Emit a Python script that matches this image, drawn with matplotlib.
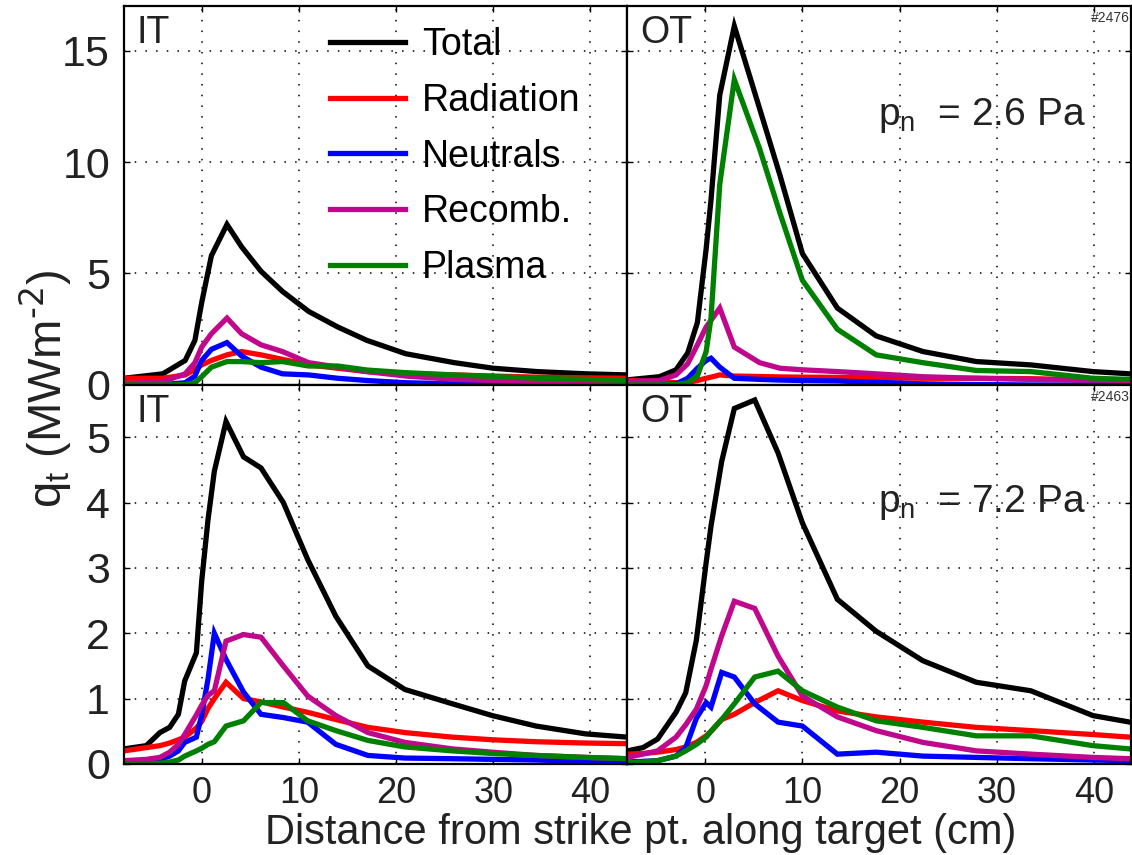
import matplotlib
matplotlib.use("Agg")
import matplotlib.pyplot as plt

plt.rcParams['font.family'] = ['Liberation Sans', 'DejaVu Sans']
plt.rcParams['mathtext.default'] = 'regular'

series_names = ["Total", "Radiation", "Neutrals", "Recomb.", "Plasma"]
series_colors = ["#000000", "#ff0000", "#0000ff", "#c0088c", "#008000"]

# --- inner target, p_n = 2.6 Pa (#2476) ---
x_it_low = [-8, -4, -1.7, -0.7, 0, 1, 2.6, 4.1, 6.1, 8.3, 11, 14, 17, 21, 26, 30, 34.5, 39.5, 43.8]
tot_it_low = [0.3, 0.5, 1.1, 2.0, 3.7, 5.8, 7.2, 6.2, 5.1, 4.2, 3.3, 2.6, 2.0, 1.4, 1.0, 0.75, 0.6, 0.5, 0.45]
rad_it_low = [0.3, 0.3, 0.45, 0.7, 0.9, 1.1, 1.35, 1.5, 1.35, 1.15, 0.9, 0.75, 0.6, 0.5, 0.45, 0.4, 0.35, 0.32, 0.3]
neu_it_low = [0.0, 0.02, 0.1, 0.4, 1.1, 1.6, 1.9, 1.3, 0.8, 0.5, 0.45, 0.3, 0.2, 0.1, 0.05, 0.03, 0.02, 0.01, 0.0]
rec_it_low = [0.05, 0.15, 0.5, 1.0, 1.7, 2.3, 3.0, 2.3, 1.8, 1.5, 1.0, 0.8, 0.6, 0.4, 0.25, 0.2, 0.15, 0.12, 0.1]
pla_it_low = [0.0, 0.0, 0.02, 0.1, 0.37, 0.8, 1.05, 1.05, 1.0, 1.05, 0.85, 0.85, 0.67, 0.55, 0.45, 0.38, 0.3, 0.25, 0.2]

# --- outer target, p_n = 2.6 Pa ---
x_ot_low = [-8, -4.7, -3, -1.8, -0.8, 0.1, 0.6, 1.5, 3.0, 5.6, 7.7, 10, 13.6, 17.6, 22.4, 27.9, 33.5, 39.9, 43.7]
tot_ot_low = [0.23, 0.37, 0.68, 1.43, 2.8, 6.1, 8.3, 13.0, 16.1, 12.4, 9.4, 5.9, 3.45, 2.2, 1.5, 1.05, 0.9, 0.6, 0.5]
rad_ot_low = [0.2, 0.15, 0.1, 0.12, 0.2, 0.3, 0.35, 0.45, 0.4, 0.38, 0.36, 0.35, 0.34, 0.32, 0.3, 0.3, 0.28, 0.22, 0.2]
neu_ot_low = [0.0, 0.0, 0.05, 0.3, 0.75, 1.1, 1.2, 0.8, 0.3, 0.25, 0.22, 0.2, 0.18, 0.12, 0.05, 0.02, 0.0, 0.0, 0.0]
rec_ot_low = [0.15, 0.2, 0.45, 0.95, 1.8, 2.6, 2.9, 3.45, 1.7, 1.0, 0.75, 0.68, 0.6, 0.5, 0.37, 0.3, 0.25, 0.22, 0.2]
pla_ot_low = [0.0, 0.0, 0.02, 0.1, 0.4, 1.5, 3.0, 9.0, 13.7, 10.6, 7.7, 4.7, 2.5, 1.35, 1.0, 0.65, 0.6, 0.3, 0.25]

# --- inner target, p_n = 7.2 Pa (#2463) ---
x_it_high = [-8, -5.7, -4.3, -3.3, -2.4, -1.75, -0.55, 0, 0.65, 1.3, 2.5, 4.3, 6.1, 8.4, 10.9, 13.8, 17.1, 20.9, 25.8, 29.9, 34.4, 39.5, 43.8]
tot_it_high = [0.23, 0.28, 0.48, 0.56, 0.76, 1.27, 1.7, 2.8, 3.74, 4.48, 5.24, 4.7, 4.53, 4.0, 3.13, 2.26, 1.5, 1.14, 0.92, 0.74, 0.58, 0.46, 0.41]
rad_it_high = [0.2, 0.25, 0.28, 0.32, 0.37, 0.41, 0.55, 0.65, 0.85, 1.0, 1.25, 1.0, 0.95, 0.87, 0.79, 0.68, 0.56, 0.48, 0.41, 0.37, 0.34, 0.32, 0.31]
neu_it_high = [0.0, 0.03, 0.07, 0.12, 0.2, 0.33, 0.41, 0.75, 1.3, 2.0, 1.6, 1.1, 0.76, 0.71, 0.64, 0.3, 0.13, 0.09, 0.08, 0.07, 0.06, 0.04, 0.03]
rec_it_high = [0.05, 0.07, 0.1, 0.18, 0.3, 0.45, 0.75, 0.9, 1.05, 1.12, 1.88, 1.98, 1.94, 1.5, 1.04, 0.74, 0.48, 0.33, 0.23, 0.18, 0.13, 0.1, 0.08]
pla_it_high = [0.0, 0.0, 0.01, 0.03, 0.06, 0.12, 0.2, 0.24, 0.3, 0.34, 0.58, 0.66, 0.94, 0.94, 0.66, 0.51, 0.36, 0.26, 0.2, 0.16, 0.13, 0.1, 0.08]

# --- outer target, p_n = 7.2 Pa ---
x_ot_high = [-8, -6.4, -4.9, -3.0, -2.0, -0.9, 0.1, 0.6, 1.7, 3.0, 5.1, 7.5, 10.0, 13.6, 17.6, 22.4, 27.9, 33.5, 39.9, 43.7]
tot_ot_high = [0.2, 0.25, 0.38, 0.79, 1.09, 1.9, 3.08, 3.64, 4.63, 5.44, 5.57, 4.76, 3.69, 2.52, 2.03, 1.58, 1.25, 1.12, 0.74, 0.64]
rad_ot_high = [0.15, 0.16, 0.18, 0.22, 0.26, 0.33, 0.43, 0.5, 0.68, 0.76, 0.94, 1.12, 0.97, 0.81, 0.72, 0.64, 0.56, 0.51, 0.45, 0.41]
neu_ot_high = [0.03, 0.04, 0.05, 0.12, 0.25, 0.7, 0.94, 0.87, 1.4, 1.33, 0.92, 0.64, 0.58, 0.15, 0.18, 0.12, 0.1, 0.08, 0.06, 0.05]
rec_ot_high = [0.1, 0.15, 0.2, 0.41, 0.6, 0.84, 1.2, 1.45, 1.96, 2.49, 2.38, 1.65, 1.04, 0.72, 0.51, 0.33, 0.2, 0.15, 0.1, 0.08]
pla_ot_high = [0.02, 0.03, 0.05, 0.12, 0.2, 0.3, 0.41, 0.5, 0.68, 0.92, 1.33, 1.42, 1.12, 0.87, 0.66, 0.56, 0.43, 0.43, 0.28, 0.23]

panels = [
    (x_it_low, [tot_it_low, rad_it_low, neu_it_low, rec_it_low, pla_it_low]),
    (x_ot_low, [tot_ot_low, rad_ot_low, neu_ot_low, rec_ot_low, pla_ot_low]),
    (x_it_high, [tot_it_high, rad_it_high, neu_it_high, rec_it_high, pla_it_high]),
    (x_ot_high, [tot_ot_high, rad_ot_high, neu_ot_high, rec_ot_high, pla_ot_high]),
]
panel_tags = ["IT", "OT", "IT", "OT"]
shot_ids = ["#2476", "#2463"]
pressures = ["2.6", "7.2"]
x_ticks = [0, 10, 20, 30, 40]
y_ticks_low = [0, 5, 10, 15]
y_ticks_high = [0, 1, 2, 3, 4, 5]

fig, axes = plt.subplots(2, 2, figsize=(11.32, 8.55), dpi=100, sharex=True)
fig.subplots_adjust(left=0.1095, right=0.999, top=0.993, bottom=0.1065, wspace=0, hspace=0)

ink = '#222222'

for i, ax in enumerate(axes.flat):
    xs, ys = panels[i]
    for y, name, c in zip(ys, series_names, series_colors):
        ax.plot(xs, y, color=c, lw=3.8, label=name, solid_joinstyle='miter')
    ax.set_xlim(-8, 43.8)
    if i < 2:
        ax.set_ylim(0, 17)
        ax.set_yticks(y_ticks_low)
    else:
        ax.set_ylim(0, 5.8)
        ax.set_yticks(y_ticks_high)
    ax.set_xticks(x_ticks)
    ax.grid(True, color='k', linestyle=(0, (1, 6)), linewidth=1.1)
    ax.tick_params(direction='in', length=4, width=1, top=True, right=True,
                   labelleft=(i % 2 == 0), labelbottom=(i >= 2), pad=10,
                   labelcolor=ink)
    ax.tick_params(axis='y', labelsize=31)
    ax.tick_params(axis='x', labelsize=26, pad=9)
    for s in ax.spines.values():
        s.set_linewidth(1.6)
    ax.text(0.025, 0.975, panel_tags[i], transform=ax.transAxes, fontsize=27,
            ha='left', va='top', color=ink)
    if i % 2 == 1:
        row = i // 2
        ax.text(0.997, 0.988, shot_ids[row], transform=ax.transAxes, fontsize=10,
                ha='right', va='top', color='#333333')
        ax.text(0.497, 0.685 if row == 0 else 0.665,
                "p$_{n}$  = " + pressures[row] + " Pa",
                transform=ax.transAxes, fontsize=28, ha='left', va='baseline', color=ink)

axes[0, 0].legend(loc='upper left', bbox_to_anchor=(0.41, 0.945), frameon=False,
                  fontsize=27, handlelength=2.0, handletextpad=0.45, labelspacing=0.53,
                  borderpad=0, borderaxespad=0)

fig.text(0.566, 0.013, "Distance from strike pt. along target (cm)", fontsize=30,
         ha='center', va='baseline', color=ink)
fig.text(0.04, 0.545, r"q$_{t}$ (MWm$^{\text{-2}}$)", fontsize=34, rotation=90,
         ha='center', va='center', color=ink)

fig.savefig("out.png", dpi=100)
